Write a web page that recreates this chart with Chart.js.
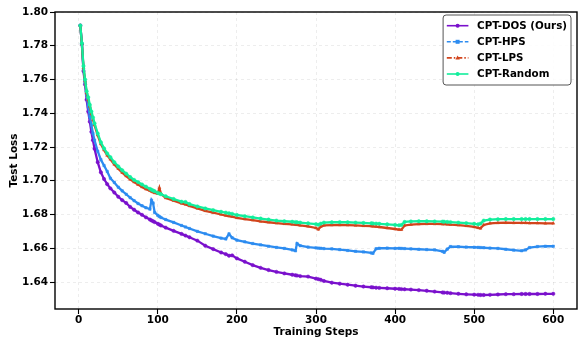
<!DOCTYPE html>
<html>
<head>
<meta charset="utf-8">
<script src="https://cdn.jsdelivr.net/npm/chart.js@4"></script>
<style>
  html, body { margin: 0; padding: 0; background: #fff; }
  canvas { display: block; }
</style>
</head>
<body>
<canvas id="lossChart" width="578" height="338"></canvas>
<script>
// training steps where the loss was sampled
const steps = [2,4,6,8,10,12,14,16,18,20,24,28,32,36,40,45,50,55,60,65,70,75,80,85,90,92,94,96,100,102,104,110,120,130,135,140,150,160,170,180,186,190,194,200,210,220,230,240,250,260,270,274,276,280,290,300,303,306,310,320,330,340,350,360,370,372,376,380,390,400,405,408,412,420,430,440,450,460,462,466,470,480,490,500,505,508,512,520,530,540,550,560,565,570,580,590,600];

const dosLoss = [1.792,1.781,1.765,1.757,1.748,1.741,1.735,1.729,1.724,1.719,1.711,1.705,1.701,1.698,1.6955,1.693,1.6905,1.6885,1.6868,1.6845,1.6828,1.6812,1.6798,1.6783,1.677,1.6765,1.676,1.6755,1.6745,1.674,1.6735,1.6722,1.6703,1.6685,1.6675,1.6665,1.6645,1.6615,1.6595,1.6575,1.6565,1.6556,1.6558,1.654,1.652,1.650,1.6484,1.6471,1.646,1.6451,1.6443,1.644,1.6438,1.6435,1.6432,1.642,1.6417,1.6413,1.6406,1.6396,1.639,1.6384,1.6378,1.6373,1.6369,1.6368,1.6366,1.6365,1.6363,1.636,1.6359,1.6358,1.6357,1.6355,1.6352,1.6348,1.6343,1.6338,1.6337,1.6336,1.6334,1.633,1.6327,1.6325,1.6324,1.6323,1.6323,1.6324,1.6326,1.6328,1.6328,1.6329,1.6329,1.6329,1.6329,1.633,1.633];

const hpsLoss = [1.792,1.781,1.766,1.758,1.751,1.744,1.738,1.733,1.728,1.724,1.7175,1.7125,1.709,1.7055,1.7015,1.699,1.6962,1.694,1.692,1.69,1.6882,1.6865,1.6852,1.684,1.6832,1.6885,1.6868,1.6812,1.6795,1.6788,1.6782,1.677,1.6753,1.6735,1.6726,1.6717,1.67,1.6686,1.6672,1.666,1.6655,1.6685,1.6662,1.6648,1.6638,1.6628,1.662,1.6612,1.6605,1.6599,1.659,1.6585,1.6628,1.6615,1.6607,1.6602,1.6601,1.66,1.6598,1.6596,1.6592,1.6587,1.6582,1.6578,1.6572,1.657,1.6597,1.66,1.6601,1.6599,1.66,1.6599,1.6598,1.6596,1.6594,1.6592,1.659,1.6582,1.6576,1.6595,1.661,1.6609,1.6607,1.6606,1.6605,1.6604,1.6603,1.6601,1.6599,1.6594,1.6589,1.6585,1.659,1.6604,1.661,1.6612,1.6612];

const lpsLoss = [1.792,1.781,1.767,1.759,1.752,1.748,1.744,1.7398,1.7362,1.733,1.727,1.7218,1.7182,1.715,1.7127,1.7097,1.7072,1.7048,1.7028,1.7008,1.6992,1.6977,1.6963,1.695,1.6942,1.6937,1.6932,1.6928,1.6924,1.6957,1.6922,1.6898,1.6882,1.6866,1.686,1.6851,1.6836,1.6822,1.6811,1.68,1.6794,1.679,1.6787,1.678,1.6773,1.6766,1.6759,1.6754,1.6749,1.6745,1.6741,1.674,1.6739,1.6736,1.673,1.672,1.6712,1.6728,1.6735,1.6737,1.6738,1.6737,1.6735,1.6733,1.6731,1.673,1.6728,1.6726,1.672,1.6714,1.671,1.671,1.6735,1.674,1.6743,1.6744,1.6744,1.6743,1.6743,1.6742,1.674,1.6737,1.6733,1.6726,1.6721,1.6718,1.6738,1.6748,1.675,1.6751,1.675,1.675,1.675,1.6749,1.6749,1.6748,1.6748];

const randomLoss = [1.792,1.7815,1.768,1.76,1.753,1.7495,1.745,1.741,1.7375,1.734,1.728,1.7228,1.7192,1.7162,1.714,1.711,1.7085,1.7062,1.7042,1.7022,1.7005,1.6992,1.6978,1.6965,1.6952,1.6947,1.6942,1.6938,1.6928,1.6924,1.692,1.6908,1.6892,1.6876,1.6874,1.6862,1.6848,1.6836,1.6826,1.6816,1.6811,1.6807,1.6804,1.6797,1.679,1.6783,1.6776,1.677,1.6764,1.676,1.6757,1.6755,1.6754,1.6752,1.6748,1.6743,1.6739,1.6746,1.6752,1.6754,1.6755,1.6754,1.6752,1.675,1.6748,1.6747,1.6746,1.6745,1.6742,1.6738,1.6736,1.6738,1.6756,1.6759,1.676,1.676,1.6759,1.6758,1.6757,1.6756,1.6755,1.6752,1.6749,1.6745,1.6742,1.6746,1.6764,1.677,1.6772,1.6773,1.6773,1.6773,1.6773,1.6773,1.6773,1.6773,1.6773];

const xTicks = [0, 100, 200, 300, 400, 500, 600];
const yTicks = [1.64, 1.66, 1.68, 1.70, 1.72, 1.74, 1.76, 1.78, 1.80];

const FONT = '"DejaVu Sans", "Liberation Sans", sans-serif';
const legendDashes = [[], [4, 2], [5, 2, 1.5, 2], []];

const toPoints = vals => vals.map((v, i) => ({ x: steps[i], y: v }));

function series(label, vals, color, style, order) {
  return {
    label: label,
    data: toPoints(vals),
    borderColor: color,
    backgroundColor: color,
    pointBackgroundColor: color,
    pointBorderColor: color,
    pointStyle: style,
    pointRadius: 1.7,
    pointBorderWidth: 0.5,
    borderWidth: 2.3,
    tension: 0,
    order: order
  };
}

function marker(ctx, style, x, y, r, color) {
  ctx.fillStyle = color;
  ctx.beginPath();
  if (style === 'rect') {
    ctx.rect(x - r, y - r, 2 * r, 2 * r);
  } else if (style === 'triangle') {
    ctx.moveTo(x, y - r * 1.2);
    ctx.lineTo(x + r * 1.1, y + r * 0.8);
    ctx.lineTo(x - r * 1.1, y + r * 0.8);
    ctx.closePath();
  } else {
    ctx.arc(x, y, r, 0, Math.PI * 2);
  }
  ctx.fill();
}

// frame around the plot + boxed legend in the top-right corner
const framePlugin = {
  id: 'frameAndLegend',
  afterDatasetsDraw(chart) {
    const { ctx, chartArea: a } = chart;
    ctx.save();
    ctx.strokeStyle = '#000';
    ctx.lineWidth = 1.4;
    ctx.strokeRect(a.left, a.top, a.right - a.left, a.bottom - a.top);

    const sets = chart.data.datasets;
    ctx.font = 'bold 10.3px ' + FONT;
    const textW = Math.max(...sets.map(d => ctx.measureText(d.label).width));
    const w = 34 + textW + 4;
    const h = 70;
    const x0 = a.right - 6 - w;
    const y0 = a.top + 3;
    ctx.beginPath();
    ctx.roundRect(x0, y0, w, h, 3);
    ctx.fillStyle = 'rgba(255,255,255,0.85)';
    ctx.fill();
    ctx.strokeStyle = '#555';
    ctx.lineWidth = 1;
    ctx.stroke();

    sets.forEach((d, i) => {
      const cy = y0 + 10.7 + i * 16.1;
      ctx.strokeStyle = d.borderColor;
      ctx.lineWidth = 1.6;
      ctx.setLineDash(legendDashes[i]);
      ctx.beginPath();
      ctx.moveTo(x0 + 3.7, cy);
      ctx.lineTo(x0 + 25.3, cy);
      ctx.stroke();
      ctx.setLineDash([]);
      marker(ctx, d.pointStyle, x0 + 14.5, cy, 2, d.borderColor);
      ctx.fillStyle = '#000';
      ctx.textAlign = 'left';
      ctx.textBaseline = 'middle';
      ctx.fillText(d.label, x0 + 34, cy + 0.5);
    });
    ctx.restore();
  }
};

new Chart(document.getElementById('lossChart'), {
  type: 'line',
  data: {
    datasets: [
      series('CPT-DOS (Ours)', dosLoss, '#7a10cc', 'circle', 4),
      series('CPT-HPS', hpsLoss, '#2d8cf0', 'rect', 3),
      series('CPT-LPS', lpsLoss, '#d2441c', 'triangle', 2),
      series('CPT-Random', randomLoss, '#12ee9c', 'circle', 1)
    ]
  },
  options: {
    responsive: false,
    animation: false,
    devicePixelRatio: 1,
    layout: { autoPadding: false, padding: { top: 12, right: 1, left: 0, bottom: 0 } },
    plugins: {
      legend: { display: false },
      tooltip: { enabled: false }
    },
    scales: {
      x: {
        type: 'linear',
        min: -30,
        max: 630,
        afterBuildTicks: axis => { axis.ticks = xTicks.map(v => ({ value: v })); },
        afterFit: axis => {
          axis.height = 29;
          axis.paddingLeft = 0;
          axis.paddingRight = 0;
        },
        ticks: {
          color: '#000',
          padding: 0,
          maxRotation: 0,
          font: { family: FONT, size: 10.5, weight: 'bold' },
          callback: v => String(v)
        },
        grid: {
          color: 'rgba(0,0,0,0.09)',
          tickColor: '#000',
          tickLength: 5,
          tickWidth: 1.1,
          lineWidth: 0.8
        },
        border: { display: false, dash: [3, 3] },
        title: {
          display: true,
          text: 'Training Steps',
          color: '#000',
          font: { family: FONT, size: 10.5, weight: 'bold', lineHeight: 1 },
          padding: { top: 0, bottom: 0 }
        }
      },
      y: {
        min: 1.624,
        max: 1.80,
        afterBuildTicks: axis => { axis.ticks = yTicks.map(v => ({ value: v })); },
        afterFit: axis => {
          axis.width = 55;
          axis.paddingTop = 0;
          axis.paddingBottom = 0;
        },
        ticks: {
          color: '#000',
          padding: 2,
          font: { family: FONT, size: 10.5, weight: 'bold' },
          callback: v => v.toFixed(2)
        },
        grid: {
          color: 'rgba(0,0,0,0.09)',
          tickColor: '#000',
          tickLength: 5,
          tickWidth: 1.1,
          lineWidth: 0.8
        },
        border: { display: false, dash: [3, 3] },
        title: {
          display: true,
          text: 'Test Loss',
          color: '#000',
          font: { family: FONT, size: 10.5, weight: 'bold', lineHeight: 1 },
          padding: { top: 8.7, bottom: 0 }
        }
      }
    }
  },
  plugins: [framePlugin]
});
</script>
</body>
</html>
